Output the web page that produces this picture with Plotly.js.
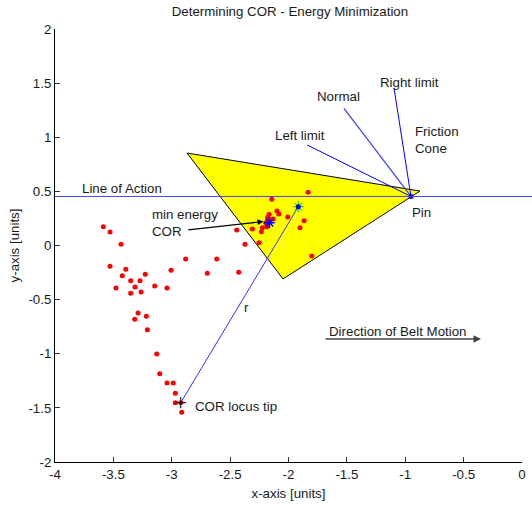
<!DOCTYPE html>
<html>
<head>
<meta charset="utf-8">
<script src="https://cdn.plot.ly/plotly-3.0.1.min.js"></script>
<style>html,body{margin:0;padding:0;background:#fff;}#chart{width:532px;height:506px;}</style>
</head>
<body>
<div id="chart"></div>
<script>
// ---- data ----
const corX = [-3.586,-3.529,-3.435,-2.881,-2.615,-3.529,-3.394,-3.424,-3.227,-3.006,-2.696,-2.427,-3.352,-3.272,-3.478,-3.315,-3.146,-3.041,-3.352,-3.263,-3.289,-3.218,-3.317,-3.209,-3.129,-3.103,-3.041,-2.987,-2.970,-2.970,-2.923,-2.915,
  -1.833,-2.144,-2.099,-2.084,-2.007,-2.167,-2.178,-2.158,-2.195,-2.187,-2.224,-2.233,-2.310,-2.444,-1.867,-1.902,-2.373,-2.253,-1.801,-2.133];
const corY = [0.174,0.125,0.011,-0.125,-0.125,-0.192,-0.220,-0.279,-0.266,-0.229,-0.257,-0.248,-0.325,-0.325,-0.393,-0.383,-0.374,-0.393,-0.442,-0.430,-0.624,-0.654,-0.682,-0.778,-1.002,-1.184,-1.270,-1.270,-1.365,-1.452,-1.452,-1.541,
  0.491,0.427,0.319,0.291,0.263,0.288,0.260,0.236,0.211,0.174,0.165,0.127,0.152,0.143,0.229,0.164,0.011,0.026,-0.097,0.245];
const bodyX = [-2.869,-0.874,-2.047,-2.869];
const bodyY = [0.854,0.503,-0.309,0.854];
const pinXY = [-0.951, 0.453];
const minCorXY = [-2.164, 0.211];
const rEndXY = [-1.916, 0.358];
const tipXY = [-2.923, -1.452];
const rightLimitXY = [-1.096, 1.452];
const normalXY = [-1.525, 1.267];
const leftLimitXY = [-1.839, 0.928];
const lineOfActionY = 0.453;
const beltX = [-1.696, -0.351];
const beltY = -0.864;
const xTickVals = [-4,-3.5,-3,-2.5,-2,-1.5,-1,-0.5,0];
const xTickText = ['-4','-3.5','-3','-2.5','-2','-1.5','-1','-0.5','0'];
const yTickVals = [-2,-1.5,-1,-0.5,0,0.5,1,1.5,2];
const yTickText = ['-2','-1.5','-1','-0.5','0','0.5','1','1.5','2'];
const xRange = [-4, 0];
const yRange = [-2, 2];

const F = 'Liberation Sans, Arial, Helvetica, sans-serif';
const FS = 13.3;
const traces = [
  {x: bodyX, y: bodyY, type:'scatter', mode:'lines', fill:'toself', fillcolor:'#ffff00',
   line:{color:'#000', width:1}},
  {x:[pinXY[0], rightLimitXY[0]], y:[pinXY[1], rightLimitXY[1]], mode:'lines', line:{color:'#0000ff', width:1}},
  {x:[pinXY[0], normalXY[0]], y:[pinXY[1], normalXY[1]], mode:'lines', line:{color:'#3c3cff', width:1.2}},
  {x:[pinXY[0], leftLimitXY[0]], y:[pinXY[1], leftLimitXY[1]], mode:'lines', line:{color:'#0000ff', width:1}},
  {x:[tipXY[0], rEndXY[0]], y:[tipXY[1], rEndXY[1]], mode:'lines', line:{color:'#3030ff', width:1}},
  {x: corX, y: corY, mode:'markers', marker:{color:'#ff0000', size:5}, cliponaxis:false},
  {x:[minCorXY[0]], y:[minCorXY[1]], mode:'markers', marker:{color:'#0000ff', size:9, symbol:'asterisk-open', line:{color:'#0000ff', width:1.5}}},
  {x:[minCorXY[0]], y:[minCorXY[1]], mode:'markers', marker:{color:'#0000ff', size:4}},
  {x:[rEndXY[0]], y:[rEndXY[1]], mode:'markers', marker:{color:'#00cc00', size:9, symbol:'asterisk-open', line:{color:'#33dd33', width:1}}},
  {x:[rEndXY[0]], y:[rEndXY[1]], mode:'markers', marker:{color:'#0000ff', size:5}},
  {x:[tipXY[0]], y:[tipXY[1]], mode:'markers', marker:{color:'#000', size:8, symbol:'cross-thin-open', line:{color:'#000', width:1}}},
  {x:[pinXY[0]], y:[pinXY[1]], mode:'markers', marker:{color:'rgba(0,0,0,0)', size:10, symbol:'circle-open', line:{color:'#00a000', width:1}}},
  {x:[pinXY[0]], y:[pinXY[1]], mode:'markers', marker:{color:'#0000ff', size:5}}
];

function txt(x, y, t, extra) {
  return Object.assign({x:x, y:y, xref:'x', yref:'y', text:t, showarrow:false, xanchor:'left', yanchor:'middle', align:'left',
    font:{family:F, size:FS, color:'#1a1a1a'}}, extra||{});
}

const layout = {
  width:532, height:506,
  margin:{l:55, r:10, t:29, b:44},
  paper_bgcolor:'#fff', plot_bgcolor:'#fff',
  showlegend:false,
  title:{text:'Determining COR - Energy Minimization', font:{family:F, size:FS, color:'#1a1a1a'}, x:0.545, xanchor:'center', y:0.978, yanchor:'middle'},
  xaxis:{range:xRange, tickvals:xTickVals, ticktext:xTickText, ticks:'inside', ticklen:5, tickcolor:'#333',
    showline:true, linecolor:'#000', linewidth:1, showgrid:false, zeroline:false,
    tickfont:{family:F, size:FS, color:'#1a1a1a'},
    title:{text:'x-axis [units]', font:{family:F, size:FS, color:'#1a1a1a'}, standoff:7}},
  yaxis:{range:yRange, tickvals:yTickVals, ticktext:yTickText, ticks:'inside', ticklen:5, tickcolor:'#333',
    showline:true, linecolor:'#000', linewidth:1, showgrid:false, zeroline:false,
    tickfont:{family:F, size:FS, color:'#1a1a1a'},
    title:{text:'y-axis [units]', font:{family:F, size:FS, color:'#1a1a1a'}, standoff:5}},
  shapes:[
    {type:'line', xref:'paper', yref:'paper', x0:0, x1:(532-55)/467,
     y0:(lineOfActionY-yRange[0])/(yRange[1]-yRange[0]), y1:(lineOfActionY-yRange[0])/(yRange[1]-yRange[0]),
     line:{color:'#4646f0', width:1}, layer:'above'}
  ],
  annotations:[
    txt(-3.786, 0.522, 'Line of Action'),
    txt(-1.233, 1.510, 'Right limit'),
    txt(-1.773, 1.372, 'Normal'),
    txt(-2.133, 1.012, 'Left limit'),
    txt(-0.934, 0.975, 'Friction<br>Cone'),
    txt(-0.959, 0.309, 'Pin'),
    txt(-3.186, 0.208, 'min energy<br>COR'),
    txt(-2.364, -0.577, 'r', {xanchor:'center'}),
    txt(-2.818, -1.483, 'COR locus tip'),
    txt(-1.670, -0.790, 'Direction of Belt Motion'),
    {x:-2.215, y:0.222, ax:-2.872, ay:0.143, xref:'x', yref:'y', axref:'x', ayref:'y', text:'', showarrow:true,
     arrowhead:2, arrowsize:1, arrowwidth:1.2, arrowcolor:'#000'},
    {x:beltX[1], y:beltY, ax:beltX[0], ay:beltY, xref:'x', yref:'y', axref:'x', ayref:'y', text:'', showarrow:true,
     arrowhead:2, arrowsize:1, arrowwidth:1.5, arrowcolor:'#444'}
  ]
};
traces.forEach(t => { if (!t.type) t.type = 'scatter'; t.hoverinfo = 'skip'; });
Plotly.newPlot('chart', traces, layout, {displayModeBar:false, staticPlot:true});
</script>
</body>
</html>
